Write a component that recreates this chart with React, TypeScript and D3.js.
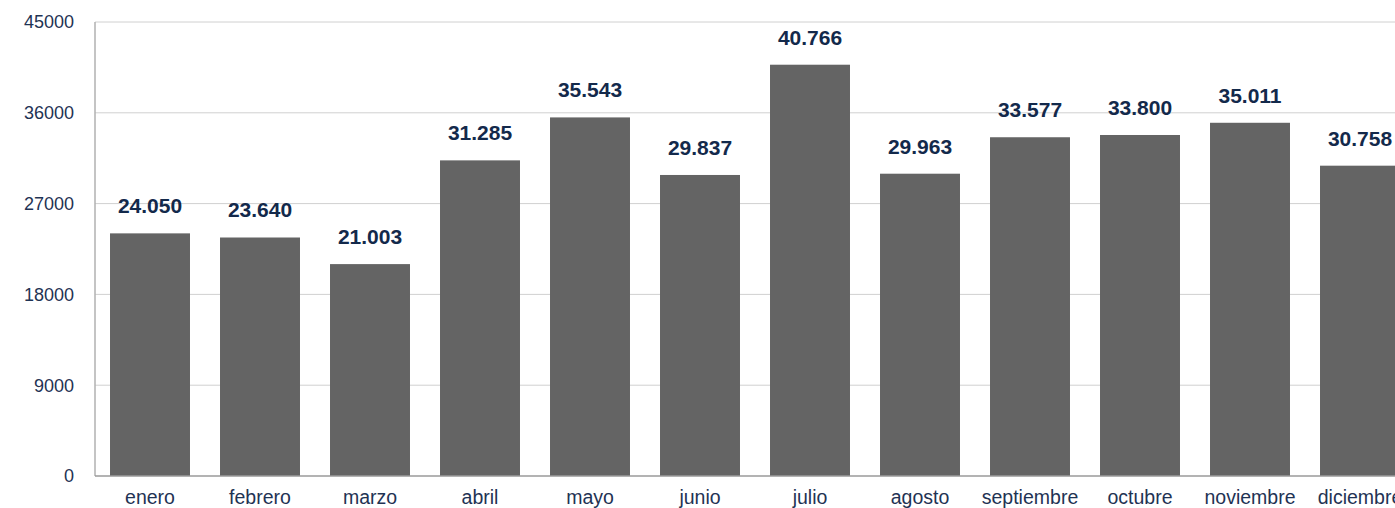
import React from "react";
import * as d3 from "d3";

const months = ["enero","febrero","marzo","abril","mayo","junio","julio","agosto","septiembre","octubre","noviembre","diciembre"];
const values = [24050, 23640, 21003, 31285, 35543, 29837, 40766, 29963, 33577, 33800, 35011, 30758];
const yTicks = [0, 9000, 18000, 27000, 36000, 45000];

const W = 1395, H = 508;
const left = 95, top = 22, bottom = 476;

export default function App() {
  const x = d3.scaleBand<string>().domain(months).range([left, left + 12 * 110]).paddingInner(0.273).paddingOuter(0.1365);
  const y = d3.scaleLinear().domain([0, 45000]).range([bottom, top]);
  const fmt = (v: number) => d3.format(",")(v).replace(/,/g, ".");
  const font = "'Liberation Sans', Arial, sans-serif";
  return (
    <svg width={W} height={H} style={{ position: "absolute", left: 0, top: 0 }} fontFamily={font}>
      {yTicks.map(t => (
        <g key={t}>
          {t > 0 && <line x1={left} x2={W} y1={y(t)} y2={y(t)} stroke="#d0d0d0" strokeWidth={1} />}
          <text x={74} y={y(t)} dy="0.35em" textAnchor="end" fontSize={18} fill="#1f3354">{t}</text>
        </g>
      ))}
      {months.map((m, i) => (
        <g key={m}>
          <rect x={x(m)} y={y(values[i])} width={x.bandwidth()} height={bottom - y(values[i])} fill="#646464" />
          <text x={x(m)! + x.bandwidth() / 2} y={y(values[i]) - 20} textAnchor="middle" fontSize={21} fontWeight="bold" fill="#13294b">{fmt(values[i])}</text>
          <text x={x(m)! + x.bandwidth() / 2} y={504} textAnchor="middle" fontSize={19.5} fill="#1f3354">{m}</text>
        </g>
      ))}
      <line x1={left} x2={left} y1={top} y2={bottom} stroke="#b0b0b0" strokeWidth={1.5} />
      <line x1={left} x2={W} y1={bottom} y2={bottom} stroke="#9a9a9a" strokeWidth={1.5} />
    </svg>
  );
}
